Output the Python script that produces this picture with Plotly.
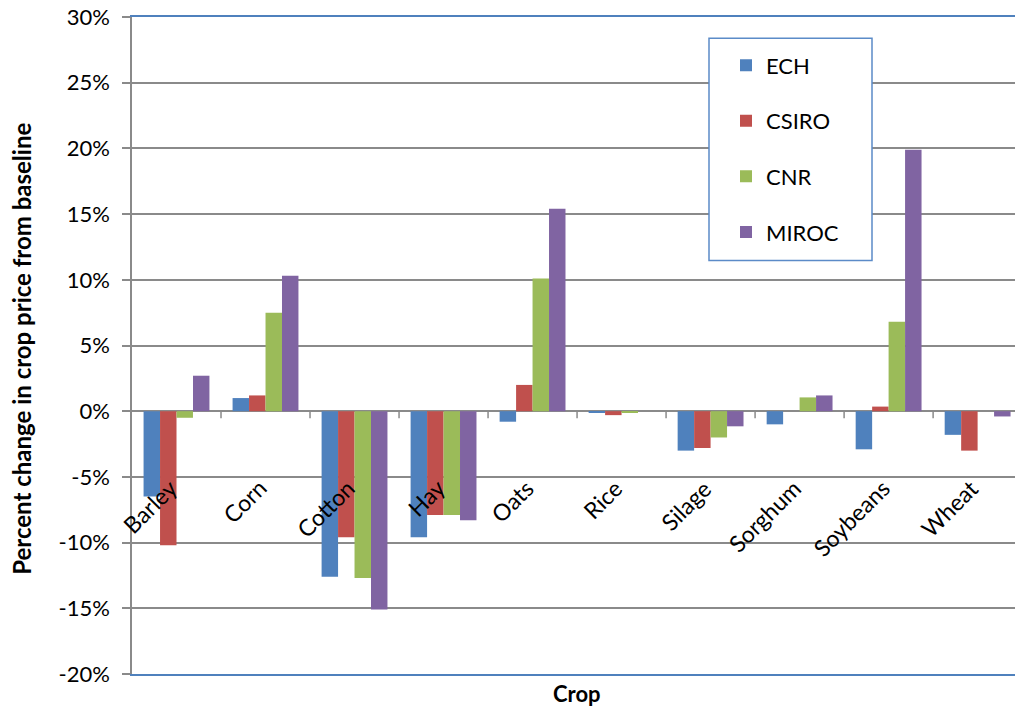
import plotly.graph_objects as go

# Percent change in crop price from baseline, by climate model
crops = ["Barley", "Corn", "Cotton", "Hay", "Oats", "Rice", "Silage", "Sorghum", "Soybeans", "Wheat"]
ech = [-6.5, 1.0, -12.6, -9.6, -0.8, -0.1, -3.0, -1.0, -2.9, -1.8]
csiro = [-10.2, 1.2, -9.6, -7.9, 2.0, -0.3, -2.8, 0.0, 0.35, -3.0]
cnr = [-0.5, 7.5, -12.7, -7.9, 10.1, -0.1, -2.0, 1.05, 6.8, 0.0]
miroc = [2.7, 10.3, -15.1, -8.3, 15.4, 0.0, -1.15, 1.2, 19.9, -0.4]

series = [
    ("ECH", ech, "#4F81BD"),
    ("CSIRO", csiro, "#C0504D"),
    ("CNR", cnr, "#9BBB59"),
    ("MIROC", miroc, "#8064A2"),
]
y_ticks = [-20, -15, -10, -5, 0, 5, 10, 15, 20, 25, 30]

FONT = "Lato, Calibri, Arial, sans-serif"
GRID = "#8A8A8A"

fig = go.Figure()
for name, vals, color in series:
    fig.add_trace(go.Bar(
        x=crops, y=vals, name=name, marker=dict(color=color, line=dict(width=0)),
        legendgroup=name,
    ))

# category labels, rotated and hanging below the zero line
annotations = []
for c in crops:
    annotations.append(dict(
        x=c, y=-4.55, xref="x", yref="y", text=c, showarrow=False,
        textangle=-45, xanchor="right", yanchor="top", xshift=9,
        font=dict(family=FONT, size=23, color="#000000"),
    ))
annotations.append(dict(
    x=4.5, y=-0.029, xref="x", yref="paper", text="<b>Crop</b>", showarrow=False,
    xanchor="center", yanchor="middle", font=dict(family=FONT, size=22, color="#000000"),
))
annotations.append(dict(
    x=-0.1246, y=0.495, xref="paper", yref="paper",
    text="<b>Percent change in crop price from baseline</b>", showarrow=False,
    textangle=-90, xanchor="center", yanchor="middle",
    font=dict(family=FONT, size=24, color="#000000"),
))

# tick marks on the category axis at the category boundaries
shapes = []
for k in range(1, len(crops)):
    shapes.append(dict(
        type="line", xref="x", yref="y", x0=k - 0.5, x1=k - 0.5,
        ysizemode="pixel", yanchor=0, y0=0, y1=-7,
        line=dict(color=GRID, width=1.5),
    ))
# legend frame
shapes.append(dict(
    type="rect", xref="paper", yref="paper",
    x0=(709 - 132) / 883, x1=(872 - 132) / 883,
    y0=(674 - 261) / 656.3, y1=(674 - 39) / 656.3,
    fillcolor="white", line=dict(color="#5B8BC8", width=1.5), layer="above",
))

fig.update_layout(
    width=1015, height=714,
    margin=dict(l=132, r=0, t=17, b=40),
    paper_bgcolor="white", plot_bgcolor="white",
    barmode="group", bargap=0.26, bargroupgap=0,
    font=dict(family=FONT, size=22, color="#000000"),
    showlegend=True,
    legend=dict(
        x=(726 - 132) / 883, y=(674 - 45) / 656.3, xanchor="left", yanchor="top",
        bgcolor="rgba(0,0,0,0)", borderwidth=0, tracegroupgap=24,
        font=dict(family=FONT, size=22, color="#000000"),
    ),
    annotations=annotations,
    shapes=shapes,
)
fig.update_xaxes(
    type="category", range=[-0.5, 9.42], showticklabels=False, ticks="",
    showgrid=False, zeroline=False,
    showline=True, mirror=True, linecolor="#4F81BD", linewidth=2,
)
fig.update_yaxes(
    range=[-20, 30], tickvals=y_ticks, ticktext=[f"{v}%" for v in y_ticks],
    showgrid=True, gridcolor=GRID, gridwidth=1.5,
    zeroline=True, zerolinecolor=GRID, zerolinewidth=1.5,
    showline=True, linecolor=GRID, linewidth=1.5, mirror=False,
    ticks="outside", ticklen=8, tickcolor=GRID, tickwidth=1.5,
    ticklabelstandoff=8,
    tickfont=dict(family=FONT, size=22, color="#000000"),
)

fig.write_html("out.html")
